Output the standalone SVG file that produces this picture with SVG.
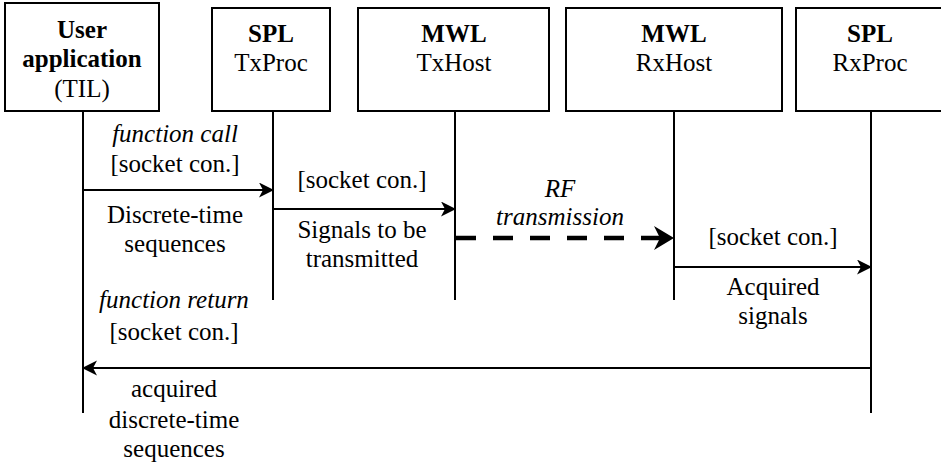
<svg xmlns="http://www.w3.org/2000/svg" width="941" height="466" viewBox="0 0 941 466">
<style>
text{font-family:"Liberation Serif","DejaVu Serif",serif;font-size:25px;fill:#000;text-anchor:middle}
.b{font-weight:bold}
.i{font-style:italic}
.box{fill:#fff;stroke:#000;stroke-width:2}
.life{stroke:#000;stroke-width:2;fill:none}
.msg{stroke:#000;stroke-width:2;fill:none;marker-end:url(#ah)}
.rf{stroke:#000;stroke-width:4.5;fill:none;stroke-dasharray:20 17;marker-end:url(#ahb)}
</style>
<defs>
<marker id="ah" markerUnits="userSpaceOnUse" markerWidth="16" markerHeight="16" refX="13" refY="7.5" orient="auto">
<path d="M0,0 L15,7.5 L0,15 L4,7.5 Z" fill="#000"/>
</marker>
<marker id="ahb" markerUnits="userSpaceOnUse" markerWidth="22" markerHeight="26" refX="18" refY="12" orient="auto">
<path d="M0,0 L20,12 L0,24 L6,12 Z" fill="#000"/>
</marker>
</defs>
<rect width="941" height="466" fill="#fff"/>
<g id="lifelines">
<line class="life" x1="83" y1="111" x2="83" y2="413"/>
<line class="life" x1="273" y1="111" x2="273" y2="300"/>
<line class="life" x1="455" y1="111" x2="455" y2="300"/>
<line class="life" x1="674" y1="111" x2="674" y2="300"/>
<line class="life" x1="871" y1="111" x2="871" y2="413"/>
</g>
<g id="user-application">
<rect class="box" x="5" y="3" width="154" height="108"/>
<text class="b" x="82" y="38">User</text>
<text class="b" x="82" y="67">application</text>
<text x="82" y="97">(TIL)</text>
</g>
<g id="spl-txproc">
<rect class="box" x="212" y="8" width="118" height="103"/>
<text class="b" x="271" y="42">SPL</text>
<text x="271" y="71">TxProc</text>
</g>
<g id="mwl-txhost">
<rect class="box" x="358" y="8" width="191" height="103"/>
<text class="b" x="454" y="42">MWL</text>
<text x="454" y="71">TxHost</text>
</g>
<g id="mwl-rxhost">
<rect class="box" x="566" y="8" width="216" height="103"/>
<text class="b" x="674" y="42">MWL</text>
<text x="674" y="71">RxHost</text>
</g>
<g id="spl-rxproc">
<rect class="box" x="796" y="8" width="150" height="103"/>
<text class="b" x="870" y="42">SPL</text>
<text x="870" y="71">RxProc</text>
</g>
<g id="connectors">
<line class="msg" x1="83" y1="190" x2="272" y2="190"/>
<line class="msg" x1="273" y1="209" x2="454" y2="209"/>
<line class="rf" x1="456" y1="238" x2="672" y2="238"/>
<line class="msg" x1="674" y1="267" x2="870" y2="267"/>
<line class="msg" x1="871" y1="368" x2="84" y2="368"/>
</g>
<g id="labels">
<text class="i" x="175" y="142">function call</text>
<text x="175" y="172">[socket con.]</text>
<text x="175" y="223">Discrete-time</text>
<text x="175" y="252">sequences</text>
<text x="362" y="188">[socket con.]</text>
<text x="362" y="238">Signals to be</text>
<text x="362" y="267">transmitted</text>
<text class="i" x="560" y="197">RF</text>
<text class="i" x="560" y="225">transmission</text>
<text x="773" y="245">[socket con.]</text>
<text x="773" y="295">Acquired</text>
<text x="773" y="324">signals</text>
<text class="i" x="174" y="308">function return</text>
<text x="174" y="340">[socket con.]</text>
<text x="174" y="397">acquired</text>
<text x="174" y="428">discrete-time</text>
<text x="174" y="457">sequences</text>
</g>
</svg>
